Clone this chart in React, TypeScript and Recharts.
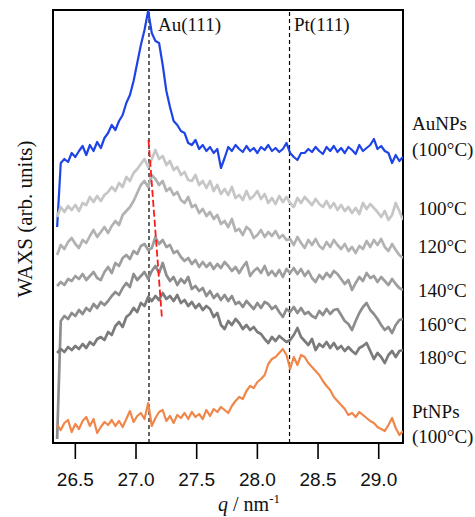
import React from 'react';
import { LineChart, Line, XAxis, YAxis, ReferenceLine, ReferenceArea } from 'recharts';

// scattering vector q (nm^-1)
const Q = [
  26.35, 26.38, 26.41, 26.44, 26.47, 26.50, 26.53, 26.56, 26.59, 26.62,
  26.65, 26.68, 26.71, 26.74, 26.77, 26.80, 26.83, 26.86, 26.89, 26.92,
  26.95, 26.98, 27.01, 27.04, 27.07, 27.10, 27.13, 27.16, 27.19, 27.22,
  27.25, 27.28, 27.31, 27.34, 27.37, 27.40, 27.43, 27.46, 27.49, 27.52,
  27.55, 27.58, 27.61, 27.64, 27.67, 27.70, 27.73, 27.76, 27.79, 27.82,
  27.85, 27.88, 27.91, 27.94, 27.97, 28.00, 28.03, 28.06, 28.09, 28.12,
  28.15, 28.18, 28.21, 28.24, 28.27, 28.30, 28.33, 28.36, 28.39, 28.42,
  28.45, 28.48, 28.51, 28.54, 28.57, 28.60, 28.63, 28.66, 28.69, 28.72,
  28.75, 28.78, 28.81, 28.84, 28.87, 28.90, 28.93, 28.96, 28.99, 29.02,
  29.05, 29.08, 29.11, 29.14, 29.17, 29.20,
];

// WAXS intensity (arb. units, offset stacked)
const AU_NPS = [
  216, 280, 284, 281, 290, 286, 292, 297, 288, 298,
  292, 301, 295, 305, 310, 318, 313, 322, 328, 340,
  348, 362, 380, 398, 413, 432, 410, 402, 400, 378,
  352, 336, 322, 318, 312, 310, 300, 298, 303, 294,
  298, 292, 296, 290, 294, 275, 285, 296, 292, 298,
  294, 291, 297, 292, 295, 290, 296, 293, 298, 292,
  295, 291, 294, 300, 290, 286, 283, 290, 290, 294,
  291, 296, 292, 289, 296, 292, 297, 291, 295, 290,
  296, 293, 289, 298, 292, 295, 298, 304, 294, 297,
  292, 290, 280, 288, 282, 286,
];
const T100 = [
  226, 236, 231, 237, 233, 238, 232, 240, 238, 246,
  241, 247, 242, 248, 251, 256, 252, 260, 256, 266,
  262, 270, 274, 279, 284, 276, 284, 293, 284, 287,
  278, 282, 273, 276, 268, 271, 263, 262, 268, 258,
  262, 255, 262, 252, 258, 249, 254, 248, 256, 245,
  248, 243, 252, 244, 247, 252, 244, 249, 240, 245,
  239, 247, 241, 246, 240, 236, 245, 240, 246, 242,
  238, 244, 239, 236, 242, 235, 240, 233, 238, 232,
  236, 230, 235, 229, 240, 234, 239, 235, 231, 226,
  232, 223, 228, 240, 232, 223,
];
const T120 = [
  188, 198, 194, 201, 205, 199, 195, 203, 200, 207,
  213, 206, 211, 216, 210, 217, 222, 218, 228, 232,
  236, 242, 250, 258, 262, 256, 268, 264, 258, 262,
  252, 255, 248, 251, 243, 240, 246, 236, 238, 230,
  234, 227, 231, 224, 228, 219, 222, 216, 224, 212,
  214, 208, 216, 213, 205, 208, 213, 206, 211, 207,
  212, 205, 208, 203, 204, 198, 206, 200, 195, 203,
  198, 204, 197, 194, 201, 196, 203, 198, 194, 199,
  192, 196, 190, 197, 194, 202, 196, 203, 198, 204,
  196, 192, 199, 193, 188, 185,
];
const T140 = [
  157, 161, 158, 164, 162, 167, 164, 169, 163, 167,
  171, 165, 163, 171, 176, 170, 180, 177, 185, 188,
  184, 192, 189, 197, 199, 193, 195, 206, 199, 203,
  196, 198, 190, 192, 186, 182, 185, 179, 183, 176,
  181, 176, 180, 174, 179, 175, 181, 177, 172, 176,
  170, 176, 181, 167, 172, 175, 170, 177, 168, 172,
  167, 173, 166, 174, 170, 175, 169, 174, 167, 172,
  165, 161, 168, 164, 170, 166, 172, 169, 164, 159,
  163, 153, 160, 166, 162, 170, 165, 167, 161, 166,
  162, 158, 164, 159, 155, 153,
];
const T160 = [
  4, 122, 127, 124, 130, 127, 133, 129, 135, 132,
  139, 135, 141, 138, 142, 147, 151, 148, 155, 160,
  156, 169, 163, 167, 171, 164, 172, 177, 170, 180,
  168, 162, 166, 158, 164, 160, 166, 154, 157, 152,
  155, 147, 152, 145, 149, 143, 148, 142, 147, 139,
  141, 136, 142, 138, 134, 140, 135, 141, 139, 134,
  137, 131, 126, 134, 131, 136, 130, 135, 129, 131,
  127, 125, 132, 128, 134, 129, 133, 134, 128, 122,
  119, 113, 122, 130, 136, 140, 133, 129, 124, 118,
  113, 116, 110, 118, 123, 124,
];
const T180 = [
  90, 94, 91, 96, 93, 97, 94, 99, 95, 101,
  98, 104, 106, 103, 111, 108, 117, 121, 116, 126,
  129, 135, 131, 140, 137, 146, 142, 147, 143, 150,
  144, 147, 142, 148, 140, 143, 137, 141, 135, 139,
  133, 137, 134, 126, 130, 118, 114, 122, 118, 124,
  120, 114, 118, 113, 116, 111, 109, 104, 100, 106,
  102, 107, 104, 101, 103, 108, 115, 106, 102, 98,
  104, 93, 99, 96, 101, 95, 100, 94, 97, 92,
  96, 92, 89, 95, 97, 100, 92, 84, 90, 86,
  80, 88, 92, 86, 92, 93,
];
const PT_NPS = [
  18, 13, 20, 23, 11, 19, 14, 22, 26, 17,
  24, 10, 16, 21, 18, 23, 17, 22, 16, 24,
  32, 21, 27, 30, 24, 40, 17, 25, 31, 33,
  22, 27, 20, 28, 25, 30, 24, 31, 26, 29,
  24, 33, 27, 34, 31, 36, 33, 30, 37, 42,
  46, 44, 52, 57, 55, 61, 64, 68, 79, 84,
  86, 90, 94, 88, 74, 86, 78, 88, 86, 80,
  76, 72, 68, 62, 57, 53, 46, 42, 38, 34,
  28, 30, 26, 31, 28, 25, 22, 20, 16, 14,
  12, 18, 25, 15, 8, 12,
];

// red guide (peak shift)
const SHIFT_Q = [27.103, 27.213];
const SHIFT_V = [303, 126];

const X_TICKS = [26.5, 27.0, 27.5, 28.0, 28.5, 29.0];
const AU_111 = 27.107;
const PT_111 = 28.265;

const SERIES = [
  { key: 'au', color: '#1f44e6', width: 2.2 },
  { key: 't100', color: '#c6c6c6', width: 2.7 },
  { key: 't120', color: '#b2b2b2', width: 2.7 },
  { key: 't140', color: '#9e9e9e', width: 2.7 },
  { key: 't160', color: '#8d8d8d', width: 2.7 },
  { key: 't180', color: '#7b7b7b', width: 2.7 },
  { key: 'pt', color: '#f0874a', width: 2.2 },
];

const RIGHT_LABELS = [
  { text: 'AuNPs', x: 412, y: 130 },
  { text: '(100°C)', x: 412, y: 156 },
  { text: '100°C', x: 418, y: 215 },
  { text: '120°C', x: 418, y: 253 },
  { text: '140°C', x: 418, y: 297 },
  { text: '160°C', x: 418, y: 331 },
  { text: '180°C', x: 418, y: 364 },
  { text: 'PtNPs', x: 412, y: 418 },
  { text: '(100°C)', x: 412, y: 443 },
];

const data = Q.map((q, i) => ({
  q,
  au: AU_NPS[i],
  t100: T100[i],
  t120: T120[i],
  t140: T140[i],
  t160: T160[i],
  t180: T180[i],
  pt: PT_NPS[i],
}));
const shiftData = SHIFT_Q.map((q, i) => ({ q, v: SHIFT_V[i] }));

const SERIF = '"Liberation Serif", "Times New Roman", serif';
const SANS = '"Liberation Sans", Arial, sans-serif';

export default function App() {
  return (
    <div style={{ position: 'absolute', left: 0, top: 0, width: 475, height: 517, background: '#fff' }}>
      <LineChart
        width={475}
        height={517}
        data={data}
        margin={{ top: 10, right: 72, bottom: 24, left: 53 }}
      >
        <XAxis
          dataKey="q"
          type="number"
          domain={[26.316, 29.2]}
          allowDataOverflow
          ticks={X_TICKS}
          tickFormatter={(v: number) => v.toFixed(1)}
          tickSize={16}
          tickMargin={14}
          height={50}
          axisLine={false}
          tickLine={{ stroke: '#000', strokeWidth: 1.6 }}
          tick={{ fill: '#111', fontSize: 19, fontFamily: SANS }}
        />
        <YAxis hide type="number" domain={[0, 433]} allowDataOverflow />
        <ReferenceLine x={AU_111} stroke="#000" strokeWidth={1.2} strokeDasharray="4 3" />
        <ReferenceLine x={PT_111} stroke="#000" strokeWidth={1.2} strokeDasharray="4 3" />
        {SERIES.map((s) => (
          <Line
            key={s.key}
            dataKey={s.key}
            stroke={s.color}
            strokeWidth={s.width}
            dot={false}
            isAnimationActive={false}
            strokeLinejoin="round"
          />
        ))}
        <Line
          data={shiftData}
          dataKey="v"
          stroke="#ff1a1a"
          strokeWidth={1.8}
          strokeDasharray="7 3"
          dot={false}
          isAnimationActive={false}
        />
        <ReferenceArea
          x1={26.316}
          x2={29.2}
          y1={0}
          y2={433}
          fill="none"
          fillOpacity={0}
          stroke="#000"
          strokeWidth={2}
          ifOverflow="visible"
        />
      </LineChart>
      <svg
        width={475}
        height={517}
        style={{ position: 'absolute', left: 0, top: 0, pointerEvents: 'none' }}
      >
        <text x={158} y={31} fontSize={19} fontFamily={SERIF} fill="#111">Au(111)</text>
        <text x={294} y={31} fontSize={19} fontFamily={SERIF} fill="#111">Pt(111)</text>
        {RIGHT_LABELS.map((l, i) => (
          <text key={i} x={l.x} y={l.y} fontSize={19} fontFamily={SERIF} fill="#111">
            {l.text}
          </text>
        ))}
        <text
          x={25}
          y={219}
          fontSize={21}
          fontFamily={SERIF}
          fill="#111"
          textAnchor="middle"
          dominantBaseline="central"
          transform="rotate(-90 25 219)"
        >
          WAXS (arb. units)
        </text>
        <text x={249} y={511} fontSize={20} fontFamily={SERIF} fill="#111" textAnchor="middle">
          <tspan fontStyle="italic">q</tspan>
          <tspan> / nm</tspan>
          <tspan fontSize={13} dy={-8}>-1</tspan>
        </text>
      </svg>
    </div>
  );
}
